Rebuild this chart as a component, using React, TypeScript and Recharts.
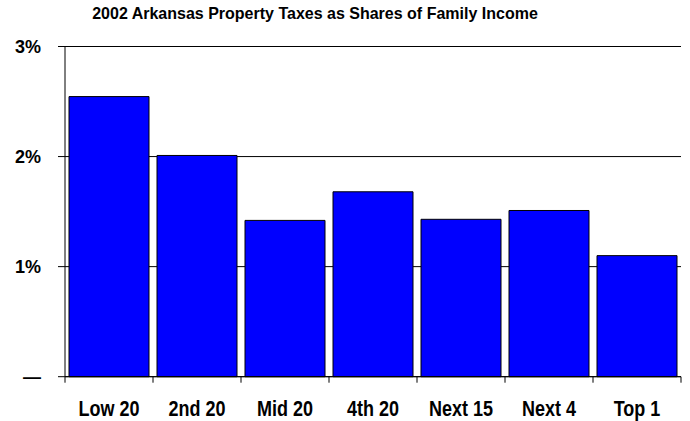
import { Bar, BarChart, CartesianGrid, XAxis, YAxis } from "recharts";

const categories = ["Low 20", "2nd 20", "Mid 20", "4th 20", "Next 15", "Next 4", "Top 1"];
const taxShares = [2.545, 2.01, 1.42, 1.68, 1.43, 1.51, 1.1];
const yTicks = [0, 1, 2, 3];

const data = categories.map((name, i) => ({ name, share: taxShares[i] }));

const font = "'Liberation Sans', Arial, sans-serif";

function CategoryTick(props: any) {
  const { x, y, payload, index, visibleTicksCount, width } = props;
  const count = visibleTicksCount || categories.length;
  const step = (width || 616) / count;
  const axisY = y - 8;
  const left = x - step / 2;
  const right = x + step / 2;
  return (
    <g>
      <line x1={left} x2={left} y1={axisY} y2={axisY + 6} stroke="#000" strokeWidth={1} />
      {index === count - 1 && (
        <line x1={right} x2={right} y1={axisY} y2={axisY + 6} stroke="#000" strokeWidth={1} />
      )}
      <text
        transform={`translate(${x},${axisY + 39}) scale(1,1.2)`}
        textAnchor="middle"
        fontFamily={font}
        fontWeight="bold"
        fontSize={18}
        fill="#000"
      >
        {payload.value}
      </text>
    </g>
  );
}

function ShareTick(props: any) {
  const { x, y, payload } = props;
  const label = payload.value === 0 ? "\u2014" : `${payload.value}%`;
  return (
    <text
      x={x}
      y={y + 6}
      textAnchor="end"
      fontFamily={font}
      fontWeight="bold"
      fontSize={18}
      fill="#000"
    >
      {label}
    </text>
  );
}

export default function App() {
  return (
    <div style={{ position: "absolute", left: 0, top: 0, width: 690, height: 421, background: "#fff" }}>
      <div
        style={{
          position: "absolute",
          left: 0,
          top: 5,
          width: 630,
          textAlign: "center",
          fontFamily: font,
          fontWeight: "bold",
          fontSize: 16,
          transform: "scaleY(1.05)",
          color: "#000",
        }}
      >
        2002 Arkansas Property Taxes as Shares of Family Income
      </div>
      <BarChart
        width={690}
        height={421}
        data={data}
        margin={{ top: 46.5, right: 9, bottom: 0, left: 0 }}
        barCategoryGap={4}
      >
        <CartesianGrid vertical={false} stroke="#000" />
        <XAxis
          dataKey="name"
          tickLine={false}
          axisLine={{ stroke: "#000" }}
          tick={<CategoryTick />}
          interval={0}
          height={44.3}
        />
        <YAxis
          domain={[0, 3]}
          ticks={yTicks}
          width={65}
          tickSize={7}
          tickMargin={17}
          axisLine={{ stroke: "#000" }}
          tickLine={{ stroke: "#000" }}
          tick={<ShareTick />}
        />
        <YAxis
          yAxisId="frame"
          orientation="right"
          domain={[0, 3]}
          width={0}
          tick={false}
          tickLine={false}
          axisLine={{ stroke: "#000" }}
        />
        <Bar dataKey="share" fill="#0000ff" stroke="#000" strokeWidth={1} isAnimationActive={false} />
      </BarChart>
    </div>
  );
}
